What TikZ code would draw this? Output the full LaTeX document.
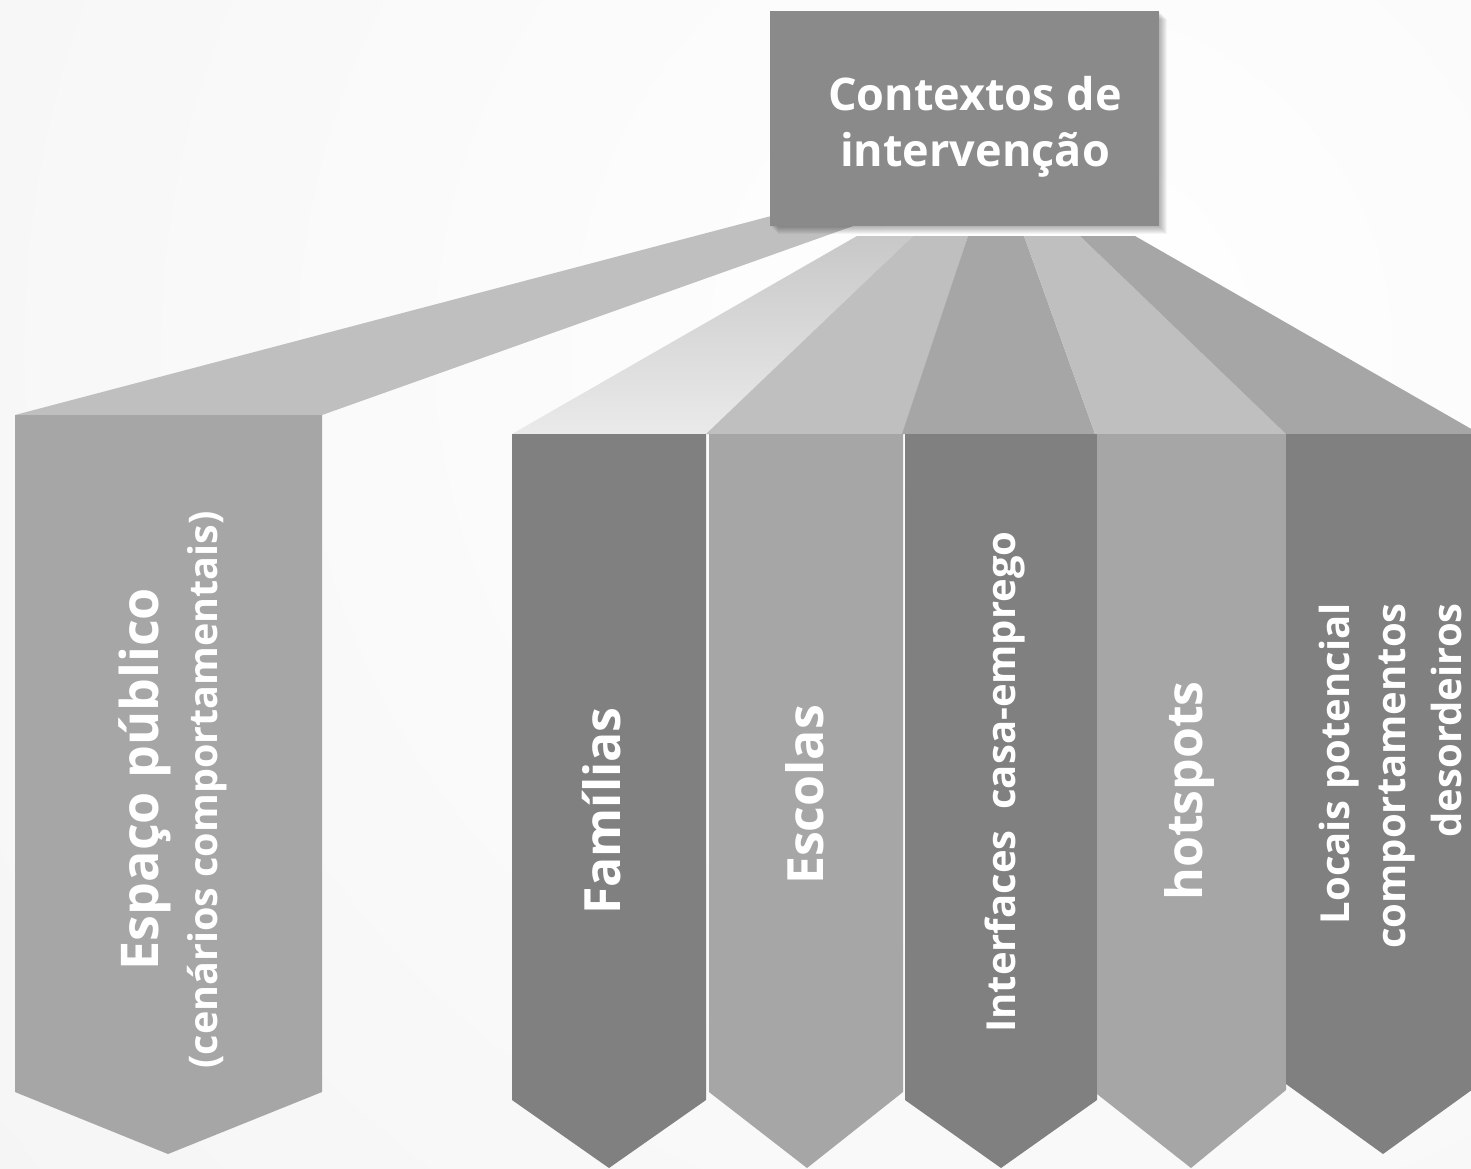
\documentclass[tikz,border=0pt]{standalone}
\usepackage{fontspec}
\setmainfont{Open Sans}
\definecolor{cdark}{RGB}{128,128,128}
\definecolor{cmid}{RGB}{166,166,166}
\definecolor{clight}{RGB}{191,191,191}
\definecolor{cbox}{RGB}{138,138,138}
\definecolor{cbg}{RGB}{236,236,236}
\definecolor{cgtop}{RGB}{200,200,200}
\definecolor{cgbot}{RGB}{234,234,234}
\begin{document}
\begin{tikzpicture}[x=1pt,y=-1pt,
  lbl/.style={text=white,inner sep=0pt},
  vlbl/.style={lbl,rotate=90},
  dark/.style={fill=cdark},
  mid/.style={fill=cmid},
  light/.style={fill=clight}]
\useasboundingbox (0,0) rectangle (1471,1168);
% background
\begin{scope}
\clip (0,0) rectangle (1471,1168);
\shade[inner color=white, outer color=cbg] (1050,350) circle (2600);
\end{scope}
% arm to Espaco publico
\fill[light] (15,415) -- (322,415) -- (870,220) -- (870,190) -- cycle;
% fan
\shade[top color=cgtop, bottom color=cgbot]
  (857,236) -- (913,236) -- (706,434) -- (512,434) -- cycle;
\fill[light] (913,236) -- (968,236) -- (904,434) -- (706,434) -- cycle;
\fill[mid]   (968,236) -- (1024,236) -- (1095,434) -- (902,434) -- cycle;
\fill[light] (1024,236) -- (1080,236) -- (1286,434) -- (1095,434) -- cycle;
\fill[mid]   (1080,236) -- (1135,236) -- (1480,434) -- (1286,434) -- cycle;
% columns
\fill[mid]  (15,415) -- (322,415) -- (322,1092) -- (168,1154) -- (15,1092) -- cycle;
\fill[dark] (512,434) -- (706,434) -- (706,1100) -- (609,1168) -- (512,1100) -- cycle;
\fill[mid]  (709,434) -- (903,434) -- (903,1092) -- (807,1168) -- (709,1092) -- cycle;
\fill[dark] (905,434) -- (1097,434) -- (1097,1100) -- (1001,1168) -- (905,1100) -- cycle;
\fill[mid]  (1097,434) -- (1286,434) -- (1286,1090) -- (1191,1168) -- (1097,1094) -- cycle;
\fill[dark] (1286,434) -- (1480,434) -- (1480,1084) -- (1383,1154) -- (1286,1084) -- cycle;
% top box with soft shadow
\foreach \i in {1,...,8} {
  \fill[black,opacity=0.04] (770+\i,11+\i) rectangle (1159+\i,226+\i);
}
\fill[cbox] (770,11) rectangle (1159,226);
\node[lbl,align=center,font=\bfseries\fontsize{45}{56}\selectfont] (ctx) at (975,127) {Contextos de\\intervenção};
% labels
\node[vlbl,font=\bfseries\fontsize{52}{60}\selectfont] (esp) at (145,779) {Espaço público};
\node[vlbl,font=\bfseries\fontsize{39.5}{44}\selectfont] (cen) at (207,790) {(cenários comportamentais)};
\node[vlbl,font=\bfseries\fontsize{50}{60}\selectfont] (fam) at (602,811) {Famílias};
\node[vlbl,font=\bfseries\fontsize{50}{60}\selectfont] (esc) at (805,795) {Escolas};
\node[vlbl,font=\bfseries\fontsize{40}{48}\selectfont] (int) at (1005,782) {Interfaces\ \ casa-emprego};
\node[vlbl,font=\bfseries\fontsize{50}{60}\selectfont] (hot) at (1189,791) {hotspots};
\node[vlbl,anchor=east,align=right,font=\bfseries\fontsize{40}{56}\selectfont] (loc) at (1390,603) {Locais potencial\\comportamentos\\desordeiros};
\end{tikzpicture}
\end{document}
